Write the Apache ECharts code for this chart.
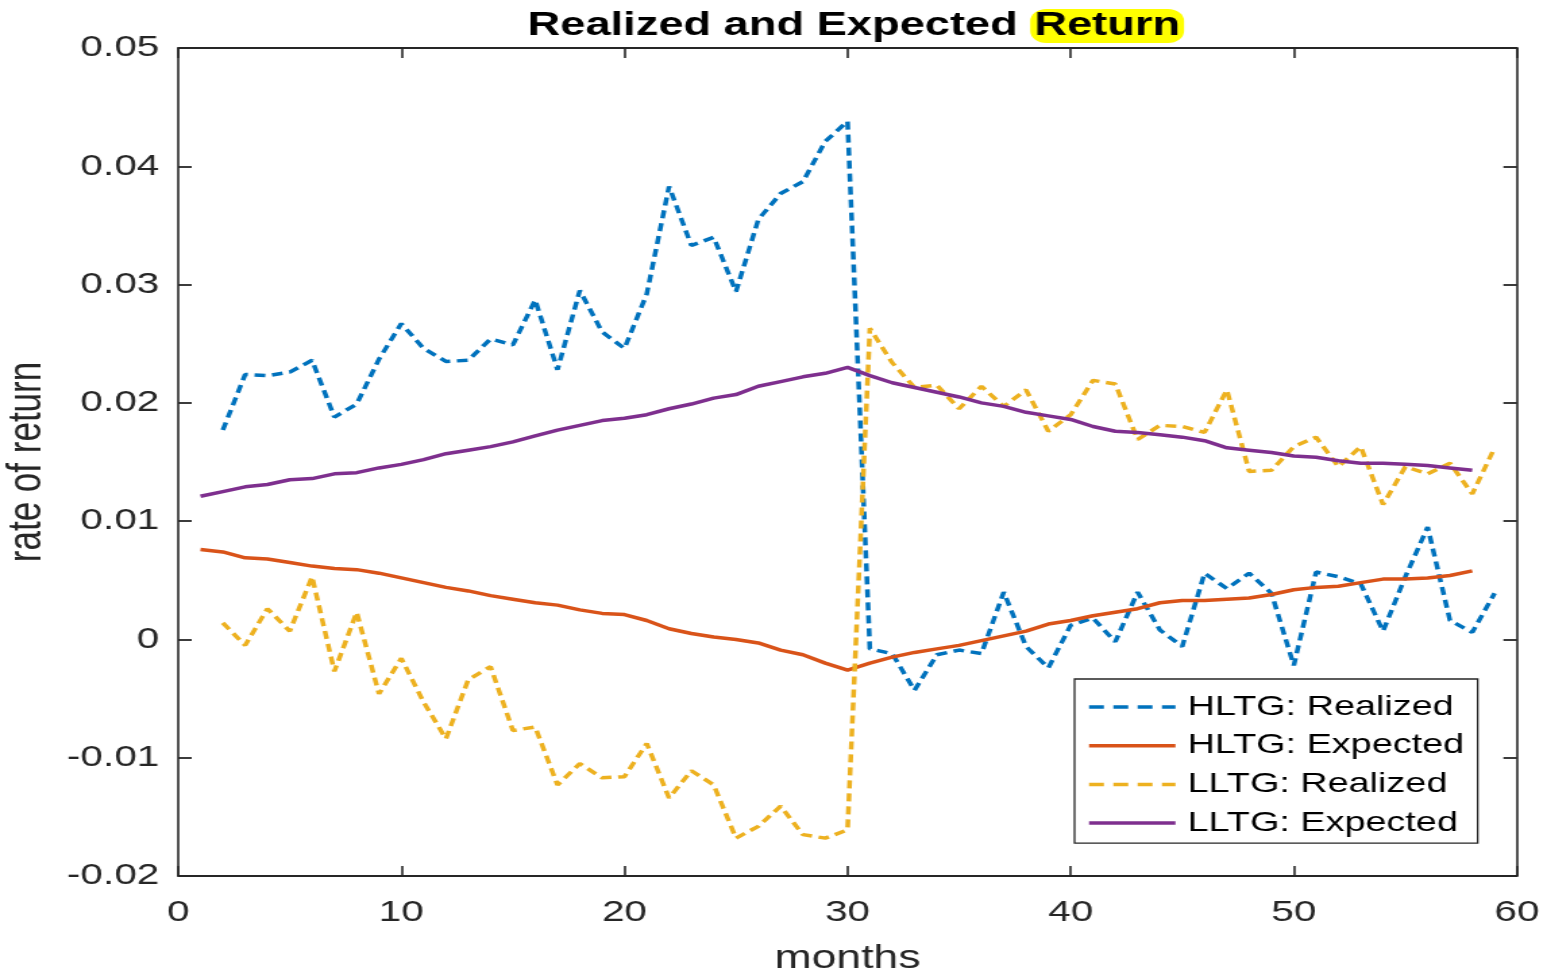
<!DOCTYPE html>
<html>
<head>
<meta charset="utf-8">
<script src="https://cdn.jsdelivr.net/npm/echarts@6/dist/echarts.min.js"></script>
<style>
  html, body { margin: 0; padding: 0; background: #fff; }
  #wrap { width: 1547px; height: 977px; overflow: hidden; }
  /* chart is laid out narrower and widened horizontally */
  #chart { width: 1146px; height: 977px; transform: scaleX(1.34991); transform-origin: 0 0; }
</style>
</head>
<body>
<div id="wrap"><div id="chart"></div></div>
<script>
// x ticks (months) and y ticks (rate of return)
const monthTicks = [0, 10, 20, 30, 40, 50, 60];
const rateTicks = [-0.02, -0.01, 0, 0.01, 0.02, 0.03, 0.04, 0.05];

// realized series cover months 2..59, expected series months 1..58
const realizedStart = 2;
const expectedStart = 1;

const hltgRealized = [
  0.0177, 0.0224, 0.0223, 0.0226, 0.0236, 0.0188, 0.0199, 0.0237, 0.0267, 0.0246,
  0.0235, 0.0236, 0.0254, 0.0249, 0.0287, 0.0228, 0.0295, 0.0260, 0.0246, 0.0292,
  0.0383, 0.0333, 0.0340, 0.0294, 0.0355, 0.0377, 0.0387, 0.0421, 0.0438, -0.0008,
  -0.0012, -0.0043, -0.0013, -0.0009, -0.0012, 0.0040, -0.0006, -0.0024, 0.0012, 0.0018,
  -0.0002, 0.0040, 0.0008, -0.0006, 0.0056, 0.0043, 0.0056, 0.0039, -0.0022, 0.0057,
  0.0053, 0.0047, 0.0007, 0.0053, 0.0095, 0.0016, 0.0006, 0.0039
];

const hltgExpected = [
  0.0076, 0.0074, 0.0069, 0.0068, 0.0065, 0.0062, 0.0060, 0.0059, 0.0056, 0.0052,
  0.0048, 0.0044, 0.0041, 0.0037, 0.0034, 0.0031, 0.0029, 0.0025, 0.0022, 0.0021,
  0.0016, 0.0009, 0.0005, 0.0002, 0.0000, -0.0003, -0.0009, -0.0013, -0.0020, -0.0026,
  -0.0020, -0.0015, -0.0011, -0.0008, -0.0005, -0.0001, 0.0003, 0.0007, 0.0013, 0.0016,
  0.0020, 0.0023, 0.0026, 0.0031, 0.0033, 0.0033, 0.0034, 0.0035, 0.0038, 0.0042,
  0.0044, 0.0045, 0.0048, 0.0051, 0.0051, 0.0052, 0.0054, 0.0058
];

const lltgRealized = [
  0.0014, -0.0005, 0.0026, 0.0007, 0.0053, -0.0027, 0.0023, -0.0046, -0.0016, -0.0053,
  -0.0084, -0.0034, -0.0023, -0.0077, -0.0074, -0.0123, -0.0105, -0.0117, -0.0116, -0.0088,
  -0.0134, -0.0111, -0.0123, -0.0168, -0.0158, -0.0141, -0.0165, -0.0168, -0.0161, 0.0263,
  0.0234, 0.0213, 0.0215, 0.0195, 0.0214, 0.0197, 0.0211, 0.0176, 0.0190, 0.0219,
  0.0216, 0.0169, 0.0181, 0.0180, 0.0175, 0.0211, 0.0142, 0.0143, 0.0163, 0.0171,
  0.0146, 0.0163, 0.0114, 0.0146, 0.0140, 0.0149, 0.0123, 0.0162
];

const lltgExpected = [
  0.0121, 0.0125, 0.0129, 0.0131, 0.0135, 0.0136, 0.0140, 0.0141, 0.0145, 0.0148,
  0.0152, 0.0157, 0.0160, 0.0163, 0.0167, 0.0172, 0.0177, 0.0181, 0.0185, 0.0187,
  0.0190, 0.0195, 0.0199, 0.0204, 0.0207, 0.0214, 0.0218, 0.0222, 0.0225, 0.0230,
  0.0223, 0.0217, 0.0213, 0.0209, 0.0205, 0.0200, 0.0197, 0.0192, 0.0189, 0.0186,
  0.0180, 0.0176, 0.0175, 0.0173, 0.0171, 0.0168, 0.0162, 0.0160, 0.0158, 0.0155,
  0.0154, 0.0151, 0.0149, 0.0149, 0.0148, 0.0147, 0.0145, 0.0143
];

const seriesNames = ['HLTG: Realized', 'HLTG: Expected', 'LLTG: Realized', 'LLTG: Expected'];
const seriesColors = ['#0072BD', '#D95319', '#EDB120', '#7E2F8E'];
const seriesDashed = [true, false, true, false];

function pairs(values, start) {
  return values.map((v, i) => [start + i, v]);
}

const FONT = '"Liberation Sans", Arial, Helvetica, sans-serif';
const AXIS_COLOR = '#262626';
const LINE_WIDTH = 3.5;

const chart = echarts.init(document.getElementById('chart'), null, { renderer: 'canvas' });

const xInterval = monthTicks[1] - monthTicks[0];
const yInterval = 0.01;

function xAxisDef(position, showLabels) {
  return {
    type: 'value',
    position: position,
    min: monthTicks[0],
    max: monthTicks[monthTicks.length - 1],
    interval: xInterval,
    axisLine: { show: true, onZero: false, lineStyle: { color: AXIS_COLOR, width: 1.8 } },
    axisTick: { show: true, inside: true, length: 10, lineStyle: { color: AXIS_COLOR, width: 1.6 } },
    axisLabel: {
      show: showLabels, margin: 22, fontSize: 30, fontFamily: FONT, color: AXIS_COLOR
    },
    splitLine: { show: false },
    name: showLabels ? 'months' : '',
    nameLocation: 'middle',
    nameGap: 66,
    nameTextStyle: { fontSize: 33, fontFamily: FONT, color: AXIS_COLOR }
  };
}

function yAxisDef(position, showLabels) {
  return {
    type: 'value',
    position: position,
    min: rateTicks[0],
    max: rateTicks[rateTicks.length - 1],
    interval: yInterval,
    axisLine: { show: true, onZero: false, lineStyle: { color: AXIS_COLOR, width: 1.6 } },
    axisTick: { show: true, inside: true, length: 10, lineStyle: { color: AXIS_COLOR, width: 1.8 } },
    axisLabel: {
      show: showLabels, margin: 14, fontSize: 30, fontFamily: FONT, color: AXIS_COLOR,
      formatter: v => (Math.abs(v) < 1e-12 ? '0' : v.toFixed(2))
    },
    splitLine: { show: false },
    name: showLabels ? 'rate of return' : '',
    nameLocation: 'middle',
    nameGap: 94,
    nameRotate: 90,
    nameTextStyle: { fontSize: 35, fontFamily: FONT, color: AXIS_COLOR }
  };
}

function lineSeries(idx, values, start) {
  return {
    name: seriesNames[idx],
    type: 'line',
    data: pairs(values, start),
    symbol: 'none',
    showSymbol: false,
    smooth: false,
    animation: false,
    color: seriesColors[idx],
    lineStyle: {
      color: seriesColors[idx],
      width: LINE_WIDTH,
      type: seriesDashed[idx] ? [8, 5] : 'solid'
    },
    z: 3
  };
}

chart.setOption({
  backgroundColor: '#ffffff',
  animation: false,
  title: {
    text: '{a|Realized and Expected }{b|Return}',
    left: 634,
    top: 8,
    textAlign: 'center',
    padding: 0,
    textStyle: {
      rich: {
        a: { fontSize: 33.5, fontWeight: 'bold', fontFamily: FONT, color: '#000', lineHeight: 36 },
        b: {
          fontSize: 33.5, fontWeight: 'bold', fontFamily: FONT, color: '#000', lineHeight: 36,
          backgroundColor: '#ffff00', borderRadius: 12, padding: [0, 3, 0, 3]
        }
      }
    }
  },
  grid: {
    left: 132,
    right: 22.3,
    top: 48,
    bottom: 101,
    containLabel: false,
    outerBoundsMode: 'none'
  },
  xAxis: [xAxisDef('bottom', true), xAxisDef('top', false)],
  yAxis: [yAxisDef('left', true), yAxisDef('right', false)],
  legend: {
    orient: 'vertical',
    left: 796,
    top: 679,
    padding: [14, 10, 6, 9],
    itemWidth: 64,
    itemHeight: 14,
    itemGap: 10.7,
    backgroundColor: '#ffffff',
    borderColor: AXIS_COLOR,
    borderWidth: 1.3,
    borderRadius: 0,
    itemStyle: { opacity: 0 },
    textStyle: { fontSize: 28, fontFamily: FONT, color: '#000', lineHeight: 28, padding: [0, 0, 0, 4] },
    data: seriesNames.map((name, i) => ({
      name: name,
      itemStyle: { opacity: 0 },
      lineStyle: {
        color: seriesColors[i],
        width: LINE_WIDTH,
        type: seriesDashed[i] ? [11, 7] : 'solid'
      }
    }))
  },
  series: seriesNames.map((name, i) => lineSeries(i,
    [hltgRealized, hltgExpected, lltgRealized, lltgExpected][i],
    seriesDashed[i] ? realizedStart : expectedStart))
});
</script>
</body>
</html>
